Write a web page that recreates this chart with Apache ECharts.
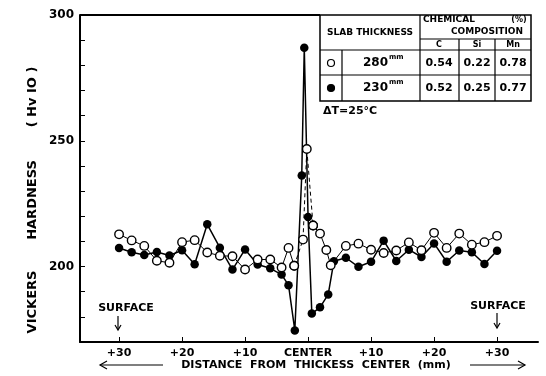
<!DOCTYPE html>
<html>
<head>
<meta charset="utf-8">
<script src="https://cdn.jsdelivr.net/npm/echarts@6/dist/echarts.min.js"></script>
<style>
html,body{margin:0;padding:0;background:#fff}
#chart{width:546px;height:376px}
</style>
</head>
<body>
<div id="chart"></div>
<script>
// 230 mm slab (filled circles)
const slab230X = [-30,-28,-26,-24,-22,-20,-18,-16,-14,-12,-10,-8,-6,-4.2,-3.1,-2.1,-1,-0.6,0,0.6,1.9,3.2,4.1,6,8,10,12,14,16,18,20,22,24,26,28,30];
const slab230Hv = [207.4,205.7,204.6,205.8,204.4,206.5,200.9,216.8,207.5,198.8,206.8,200.8,199.3,196.8,192.6,174.6,236.2,287,219.7,181.3,183.8,188.9,202.1,203.5,199.9,201.9,210.3,202.2,206.7,203.8,209.2,201.9,206.4,205.7,201,206.3];

// 280 mm slab (open circles)
const slab280X = [-30,-28,-26,-24,-22,-20,-18,-16,-14,-12,-10,-8,-6,-4.2,-3.1,-2.2,-0.8,-0.2,0.8,1.9,2.9,3.6,6,8,10,12,14,16,18,20,22,24,26,28,30];
const slab280Hv = [212.8,210.4,208.2,202.3,201.5,209.7,210.5,205.6,204.3,204.1,198.8,202.8,202.8,199.6,207.4,200.3,210.7,246.7,216.3,213.1,206.6,200.5,208.2,209.1,206.7,205.4,206.4,209.6,206.5,213.4,207.4,213.1,208.7,209.7,212.2];

const xTickValues = [-30,-20,-10,0,10,20,30];
const yLabelValues = [200,250,300];
const yTickValues = [170,180,190,200,210,220,230,240,250,260,270,280,290,300];

// composition table
const tableRows = [
  {thick:'280', c:'0.54', si:'0.22', mn:'0.78', open:true},
  {thick:'230', c:'0.52', si:'0.25', mn:'0.77', open:false}
];

const pts230 = slab230X.map((x,i) => [x, slab230Hv[i]]);
const pts280 = slab280X.map((x,i) => [x, slab280Hv[i]]);
const dashFrom = slab280X.indexOf(-2.2);
const dashTo = slab280X.indexOf(0.8);

const bold = 'bold 11px "DejaVu Sans"';

function txt(x, y, text, font, align, vAlign, rot){
  return {
    type:'text', x:x, y:y, rotation:rot || 0, z:10,
    style:{text:text, font:font, fill:'#000',
      align:align || 'center', verticalAlign:vAlign || 'middle',
      textAlign:align || 'center', textVerticalAlign:vAlign || 'middle'}
  };
}
function ln(x1,y1,x2,y2,w){
  return {type:'line', z:10, shape:{x1:x1,y1:y1,x2:x2,y2:y2}, style:{stroke:'#000', lineWidth:w || 1.2}};
}
function arrowHead(pts){
  return {type:'polyline', z:10, shape:{points:pts}, style:{stroke:'#000', lineWidth:1.2, fill:null}};
}

const graphics = [
  // top frame
  ln(80,15,320,15,2),
  // table
  {type:'rect', z:9, shape:{x:320,y:15,width:211,height:86}, style:{fill:'#fff', stroke:'#000', lineWidth:1.5}},
  ln(420,39,531,39), ln(320,50,531,50), ln(320,75,531,75),
  ln(342,50,342,101), ln(420,15,420,101), ln(459,39,459,101), ln(495,39,495,101),
  txt(370,33,'SLAB THICKNESS','bold 9px "DejaVu Sans"'),
  txt(423,20,'CHEMICAL','bold 9px "DejaVu Sans"','left'),
  txt(519,20,'(%)','bold 8px "DejaVu Sans"'),
  txt(487,32,'COMPOSITION','bold 9px "DejaVu Sans"'),
  txt(439,45,'C','bold 8px "DejaVu Sans"'),
  txt(477,45,'Si','bold 8px "DejaVu Sans"'),
  txt(513,45,'Mn','bold 8px "DejaVu Sans"'),
  txt(323,111,'\u0394T=25\u00B0C','bold 11px "DejaVu Sans"','left'),
  // surface marks
  txt(126,308,'SURFACE','bold 11px "DejaVu Sans"'),
  ln(118,316,118,329), arrowHead([[115,325],[118,330],[121,325]]),
  txt(498,306,'SURFACE','bold 11px "DejaVu Sans"'),
  ln(497,313,497,327), arrowHead([[494,323],[497,328],[500,323]]),
  // axis titles
  txt(33,302,'VICKERS','bold 13px "DejaVu Sans"','center','middle',Math.PI/2),
  txt(33,200,'HARDNESS','bold 13px "DejaVu Sans"','center','middle',Math.PI/2),
  txt(33,97,'( Hv IO )','bold 13px "DejaVu Sans"','center','middle',Math.PI/2),
  txt(316,365,'DISTANCE  FROM  THICKESS  CENTER  (mm)','bold 11px "DejaVu Sans"'),
  ln(100,365,163,365), arrowHead([[107,361],[100,365],[107,369]]),
  ln(470,365,525,365), arrowHead([[518,361],[525,365],[518,369]])
];

tableRows.forEach((r, i) => {
  const y = 63 + i * 25;
  graphics.push({type:'circle', z:10, shape:{cx:331, cy:y, r:3.5},
    style:{fill: r.open ? '#fff' : '#000', stroke:'#000', lineWidth:1.2}});
  graphics.push(txt(388,y,r.thick,'bold 12px "DejaVu Sans"','right'));
  graphics.push(txt(389,y-6,'mm','bold 7px "DejaVu Sans"','left'));
  graphics.push(txt(439,y,r.c,bold));
  graphics.push(txt(477,y,r.si,bold));
  graphics.push(txt(513,y,r.mn,bold));
});

const lineOpen = {color:'#000', width:1};
const openItem = {color:'#fff', borderColor:'#000', borderWidth:1.4};

const option = {
  animation:false,
  grid:{left:80, right:8, top:15, bottom:34},
  xAxis:{
    type:'value', min:-36.2, max:36.5,
    axisLine:{onZero:false, lineStyle:{color:'#000', width:2}},
    axisTick:{customValues:xTickValues, inside:true, length:5, lineStyle:{color:'#000', width:1}},
    axisLabel:{customValues:xTickValues, color:'#000', fontFamily:'DejaVu Sans', fontWeight:'bold', fontSize:11, margin:6,
      formatter: v => v === 0 ? 'CENTER' : '+' + Math.abs(v)},
    splitLine:{show:false}
  },
  yAxis:{
    type:'value', min:170, max:300,
    axisLine:{show:true, onZero:false, lineStyle:{color:'#000', width:2}},
    axisTick:{customValues:yTickValues, inside:true, length:5, lineStyle:{color:'#000', width:1}},
    axisLabel:{customValues:yLabelValues, color:'#000', fontFamily:'DejaVu Sans', fontWeight:'bold', fontSize:12, margin:6},
    splitLine:{show:false}
  },
  series:[
    {type:'line', name:'230mm', data:pts230, symbol:'circle', symbolSize:8.5,
      itemStyle:{color:'#000'}, lineStyle:{color:'#000', width:1.5}, z:3},
    {type:'line', name:'280mm left', data:pts280.slice(0, dashFrom + 1), symbol:'circle', symbolSize:8.5,
      itemStyle:openItem, lineStyle:lineOpen, z:4},
    {type:'line', name:'280mm center', data:pts280.slice(dashFrom, dashTo + 1), symbol:'circle', symbolSize:8.5,
      itemStyle:openItem, lineStyle:{color:'#000', width:1, type:[4,3]}, z:4},
    {type:'line', name:'280mm right', data:pts280.slice(dashTo), symbol:'circle', symbolSize:8.5,
      itemStyle:openItem, lineStyle:lineOpen, z:4}
  ],
  graphic:graphics
};

echarts.init(document.getElementById('chart')).setOption(option);
</script>
</body>
</html>
